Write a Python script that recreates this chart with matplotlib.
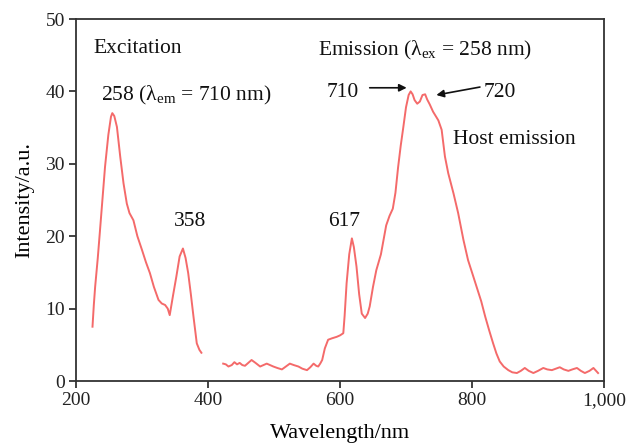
import matplotlib
matplotlib.use("Agg")
import matplotlib.pyplot as plt

plt.rcParams['font.family'] = ['Liberation Serif', 'DejaVu Serif']
plt.rcParams['mathtext.fontset'] = 'custom'
plt.rcParams['mathtext.rm'] = 'Liberation Serif'
plt.rcParams['mathtext.it'] = 'Liberation Serif:italic'

# Excitation spectrum (lambda_em = 710 nm)
exc_nm = [225, 227, 229, 233, 236, 240, 244, 249, 253, 255, 258, 262, 267, 272, 277, 281, 287,
          293, 300, 306, 312, 318, 325, 330, 335, 339, 342, 347, 352, 357, 362, 366, 370,
          374, 378, 383, 387, 390]
exc_int = [7.5, 10.5, 13.0, 17.0, 20.4, 25.0, 29.6, 34.0, 36.5, 37.0, 36.6, 35.1, 31.0, 27.3,
           24.5, 23.2, 22.2, 20.0, 18.1, 16.4, 14.9, 13.0, 11.2, 10.7, 10.5, 10.0, 9.1,
           11.8, 14.4, 17.2, 18.3, 17.0, 14.9, 12.0, 8.9, 5.2, 4.3, 3.9]

# Emission spectrum (lambda_ex = 258 nm)
em_nm = [423, 427, 431, 436, 440, 444, 448, 452, 456, 461, 466, 472, 479, 484, 489, 494, 499,
         505, 512, 518, 524, 530, 537, 543, 550, 555, 560, 564, 567, 570, 573, 577, 582,
         588, 595, 600, 605, 607, 610, 614, 618, 621, 625, 629, 633, 638, 642, 645, 650,
         655, 662, 670, 675, 680, 684, 688, 692, 696, 700, 704, 707, 710, 713, 717, 721,
         725, 729, 732, 736, 741, 745, 749, 754, 759, 764, 768, 772, 779, 787, 794, 800,
         807, 814, 820, 826, 832, 837, 842, 848, 855, 861, 868, 874, 880, 886, 893, 900,
         908, 914, 921, 927, 933, 939, 946, 952, 959, 965, 971, 978, 984, 988, 991]
em_int = [2.4, 2.3, 2.0, 2.2, 2.6, 2.3, 2.5, 2.2, 2.1, 2.5, 2.9, 2.5, 2.0, 2.2, 2.4, 2.2, 2.0,
          1.8, 1.6, 2.0, 2.4, 2.2, 2.0, 1.7, 1.5, 1.9, 2.4, 2.1, 2.0, 2.4, 2.9, 4.5, 5.7,
          5.9, 6.1, 6.3, 6.6, 9.0, 13.5, 17.5, 19.7, 18.5, 15.8, 12.0, 9.3, 8.7, 9.3, 10.3, 13.0,
          15.3, 17.5, 21.5, 22.8, 23.8, 26.0, 29.5, 32.5, 35.1, 37.8, 39.5, 40.0, 39.6, 38.8,
          38.3, 38.6, 39.5, 39.6, 38.9, 38.2, 37.2, 36.6, 36.0, 34.7, 31.0, 28.7, 27.3, 25.9,
          23.2, 19.5, 16.7, 15.0, 13.0, 11.0, 8.9, 7.0, 5.2, 3.8, 2.7, 2.0, 1.5, 1.2, 1.1,
          1.4, 1.8, 1.4, 1.1, 1.4, 1.8, 1.6, 1.5, 1.7, 1.9, 1.6, 1.4, 1.6, 1.8, 1.4, 1.1,
          1.4, 1.8, 1.4, 1.1]

xticks = [200, 400, 600, 800, 1000]
xtick_labels = ['200', '400', '600', '800', '1,000']
yticks = [0, 10, 20, 30, 40, 50]

line_color = '#f46a6a'
fs_tick = 14
fs_label = 16
fs_note = 15.5

fig = plt.figure(figsize=(6.3, 4.44), dpi=100)
ax = fig.add_axes([76/630, 63/444, (604-76)/630, (381-19)/444])

ax.plot(exc_nm, exc_int, color=line_color, lw=1.4)
ax.plot(em_nm, em_int, color=line_color, lw=1.4)

ax.set_xlim(200, 1000)
ax.set_ylim(0, 50)
ax.set_xticks(xticks)
ax.set_xticklabels(xtick_labels)
ax.set_yticks(yticks)
ax.tick_params(direction='out', length=5, width=1.2, labelsize=fs_tick, colors='#222222', pad=3)
for s in ax.spines.values():
    s.set_linewidth(1.3)
    s.set_color('#333333')

ax.set_xlabel('Wavelength/nm', fontsize=fs_label, labelpad=11)
ax.set_ylabel('Intensity/a.u.', fontsize=fs_label, labelpad=8)

tc = '#111111'
ax.text(226, 45.9, 'Excitation', fontsize=fs_note, ha='left', va='center', color=tc)
ax.text(238, 39.4, r'258 (λ$_{\rm em}$ = 710 nm)', fontsize=fs_note, ha='left', va='center', color=tc)
ax.text(566, 45.6, r'Emission (λ$_{\rm ex}$ = 258 nm)', fontsize=fs_note, ha='left', va='center', color=tc)
ax.text(580, 39.8, '710', fontsize=fs_note, ha='left', va='center', color=tc)
ax.text(817, 39.8, '720', fontsize=fs_note, ha='left', va='center', color=tc)
ax.text(771, 33.3, 'Host emission', fontsize=fs_note, ha='left', va='center', color=tc)
ax.text(348, 22.0, '358', fontsize=fs_note, ha='left', va='center', color=tc)
ax.text(582, 22.0, '617', fontsize=fs_note, ha='left', va='center', color=tc)

arrow_kw = dict(arrowstyle='-|>', color='#111111', lw=1.2, mutation_scale=11, shrinkA=0, shrinkB=0)
ax.annotate('', xy=(701, 40.5), xytext=(645, 40.5), arrowprops=arrow_kw)
ax.annotate('', xy=(746, 39.5), xytext=(812, 40.6), arrowprops=arrow_kw)

fig.savefig('out.png', dpi=100)
